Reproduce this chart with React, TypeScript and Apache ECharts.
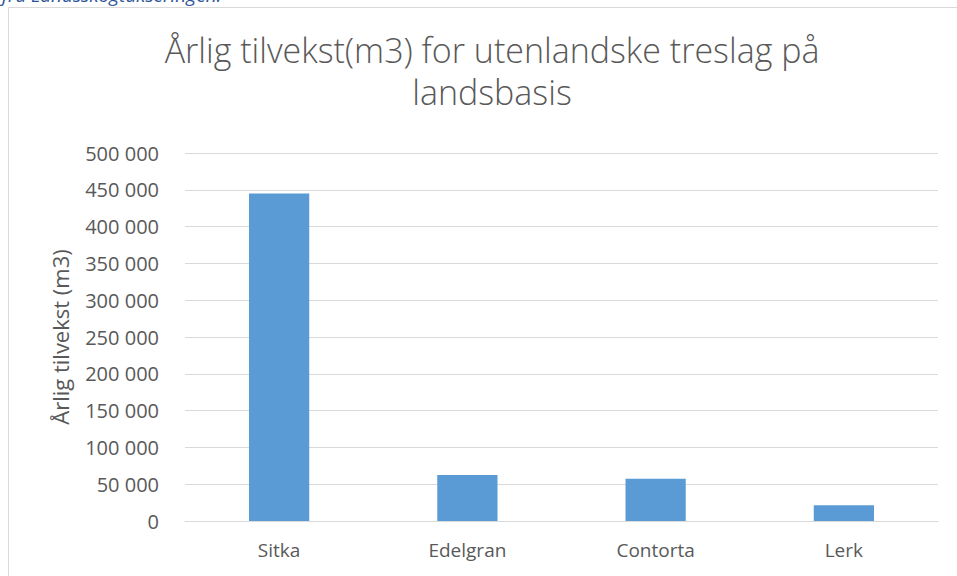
import React, { useEffect, useRef } from "react";
import * as echarts from "echarts";

const categories = ["Sitka", "Edelgran", "Contorta", "Lerk"];
const values = [445000, 62500, 57500, 21500];
const titleText = "Årlig tilvekst(m3) for utenlandske treslag på\nlandsbasis";
const yAxisName = "Årlig tilvekst (m3)";
const topNote = "fra Landsskogtakseringen.";

const FONT = "'Open Sans', 'Noto Sans', sans-serif";

function fmt(v: number): string {
  return String(v).replace(/\B(?=(\d{3})+(?!\d))/g, " ");
}

export default function App() {
  const ref = useRef<HTMLDivElement>(null);
  useEffect(() => {
    document.body.style.margin = "0";
    const chart = echarts.init(ref.current!, undefined, { renderer: "svg" });
    chart.setOption({
      animation: false,
      backgroundColor: "#ffffff",
      title: {
        text: titleText,
        left: 487,
        textAlign: "center",
        top: 24,
        textStyle: {
          fontFamily: FONT,
          fontSize: 34,
          fontWeight: 300,
          color: "#595959",
          lineHeight: 42,
        },
      },
      graphic: [
        {
          type: "rect",
          shape: { x: 8.5, y: 7.5, width: 1000, height: 600 },
          style: { fill: "none", stroke: "#d9d9d9", lineWidth: 1 },
          silent: true,
        },
        {
          type: "text",
          left: 2,
          top: -15,
          style: {
            text: topNote,
            font: `italic 19px ${FONT}`,
            fill: "#2E5597",
          },
        },
      ],
      grid: { left: 185, right: 19, top: 153, bottom: 55 },
      xAxis: {
        type: "category",
        data: categories,
        axisLine: { show: true, lineStyle: { color: "#d9d9d9" } },
        axisTick: { show: false },
        axisLabel: {
          fontFamily: FONT,
          fontSize: 19,
          color: "#595959",
          margin: 19,
        },
      },
      yAxis: {
        type: "value",
        min: 0,
        max: 500000,
        interval: 50000,
        name: yAxisName,
        nameLocation: "middle",
        nameGap: 114,
        nameTextStyle: { fontFamily: FONT, fontSize: 22, color: "#595959" },
        axisLine: { show: false },
        axisTick: { show: false },
        splitLine: { lineStyle: { color: "#d9d9d9", width: 1 } },
        axisLabel: {
          fontFamily: FONT,
          fontSize: 20,
          color: "#595959",
          margin: 26,
          formatter: (v: number) => fmt(v),
        },
      },
      series: [
        {
          type: "bar",
          data: values,
          barWidth: "32%",
          itemStyle: { color: "#5B9BD5" },
        },
      ],
    });
    return () => chart.dispose();
  }, []);
  return <div ref={ref} style={{ width: 957, height: 576 }} />;
}
